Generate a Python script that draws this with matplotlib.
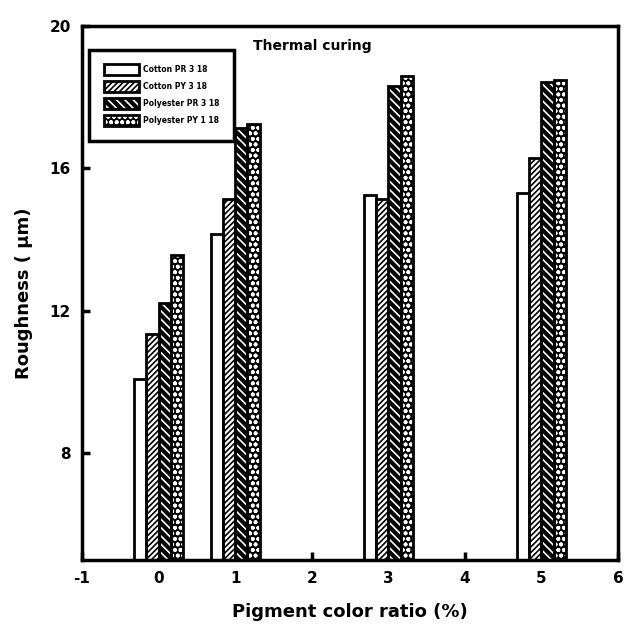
import matplotlib
matplotlib.use("Agg")
import matplotlib.pyplot as plt
from matplotlib.patches import Patch
from matplotlib.legend_handler import HandlerTuple
import numpy as np

# pigment color ratio (%)
ratios = [0, 1, 3, 5]
series = ["Cotton PR 3 18", "Cotton PY 3 18", "Polyester PR 3 18", "Polyester PY 1 18"]

cotton_pr = [10.08, 14.17, 15.25, 15.3]
cotton_py = [11.35, 15.15, 15.15, 16.3]
poly_pr = [12.23, 17.13, 18.31, 18.42]
poly_py = [13.58, 17.25, 18.6, 18.48]

# face, hatch colour, hatch pattern for each series
styles = [
    ("white", "white", ""),
    ("white", "black", "//////"),
    ("black", "white", "\\\\\\\\"),
    ("black", "white", "ooo"),
]

plt.rcParams["hatch.linewidth"] = 1.2
plt.rcParams["font.weight"] = "bold"
plt.rcParams["axes.unicode_minus"] = False

fig = plt.figure(figsize=(6.24, 6.28), dpi=100)
ax = fig.add_axes([0.1314, 0.1083, 0.8590, 0.8503])

x = np.array(ratios, dtype=float)
width = 0.16
offsets = [-0.24, -0.08, 0.08, 0.24]
values = [cotton_pr, cotton_py, poly_pr, poly_py]

handles = []
for vals, off, (face, hcol, hatch) in zip(values, offsets, styles):
    # hatch layer, then outline on top
    ax.bar(x + off, vals, width, color=face, edgecolor=hcol, hatch=hatch, linewidth=0, zorder=2)
    ax.bar(x + off, vals, width, fill=False, edgecolor="black", linewidth=2, zorder=3)
    handles.append((Patch(facecolor=face, edgecolor=hcol, hatch=hatch, linewidth=0),
                    Patch(fill=False, edgecolor="black", linewidth=2)))

ax.set_xlim(-1, 6)
ax.set_ylim(5, 20)
ax.set_xticks(range(-1, 7))
ax.set_yticks([8, 12, 16, 20])
ax.tick_params(direction="in", length=6, width=2.5, labelsize=11, top=False, right=False, pad=8)
for lab in ax.get_xticklabels() + ax.get_yticklabels():
    lab.set_fontweight("bold")
for sp in ax.spines.values():
    sp.set_linewidth(2.5)

ax.set_xlabel("Pigment color ratio (%)", fontsize=13, fontweight="bold", labelpad=12)
ax.set_ylabel("Roughness ( μm)", fontsize=13, fontweight="bold", labelpad=12)

ax.text(0.43, 0.975, "Thermal curing", transform=ax.transAxes, ha="center", va="top",
        fontsize=10, fontweight="bold")

leg = ax.legend(handles, series, handler_map={tuple: HandlerTuple(ndivide=1, pad=0)},
                loc="upper left", bbox_to_anchor=(0.006, 0.963),
                handlelength=4.6, handleheight=1.9, labelspacing=0.75,
                borderpad=1.9, handletextpad=0.6, fancybox=False, framealpha=1,
                edgecolor="black", prop={"weight": "bold", "size": 5.5})
leg.get_frame().set_linewidth(2.5)

fig.savefig("out.png", dpi=100)
